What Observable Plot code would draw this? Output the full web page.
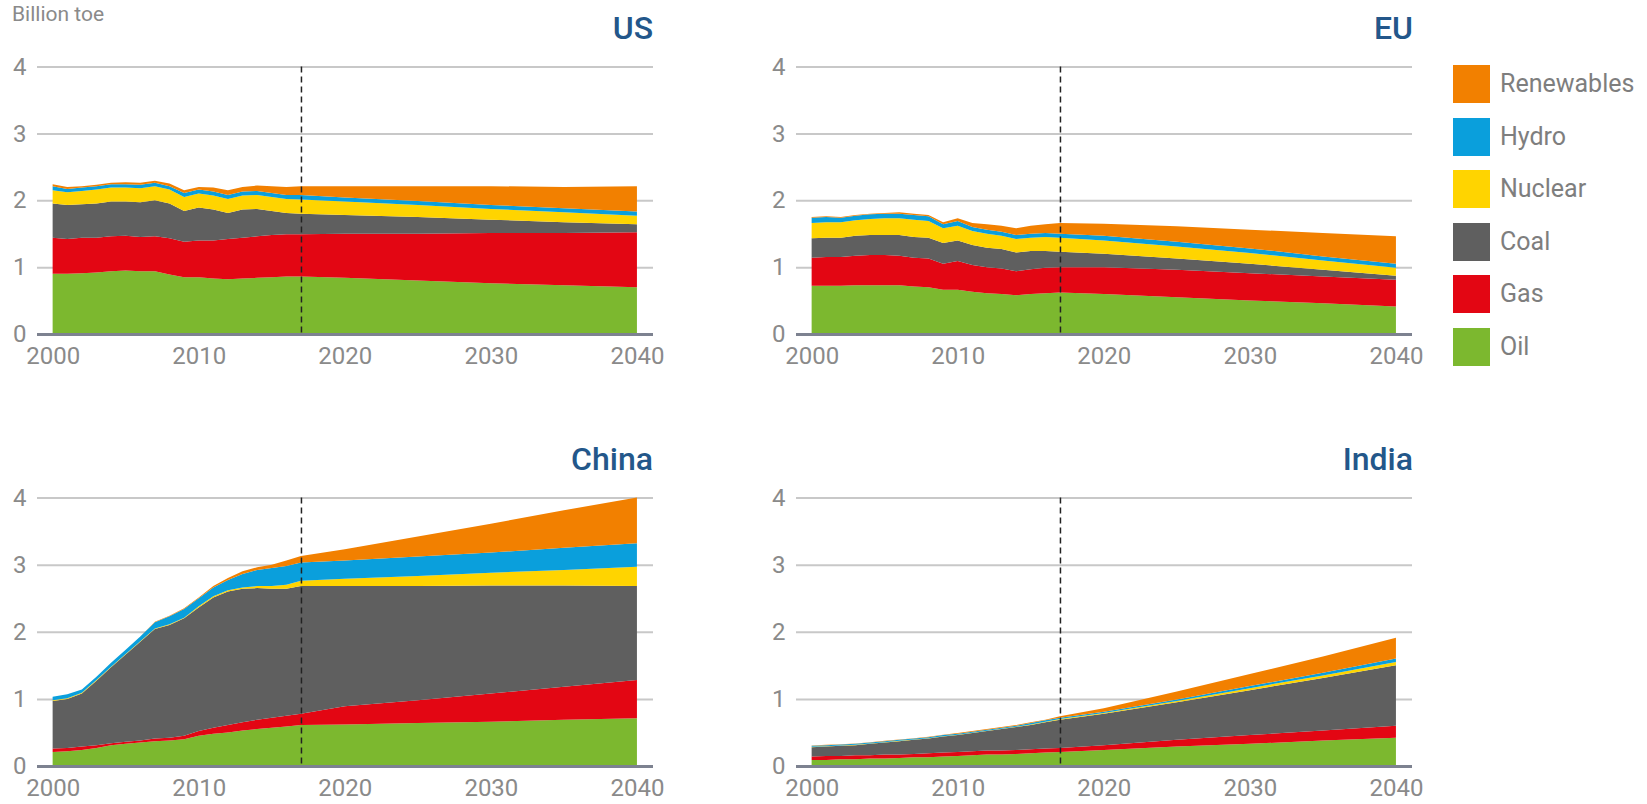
<!DOCTYPE html>
<html><head><meta charset="utf-8">
<script src="https://cdn.jsdelivr.net/npm/d3@7"></script>
<script src="https://cdn.jsdelivr.net/npm/@observablehq/plot@0.6"></script>
<style>
body{margin:0;background:#fff;font-family:Roboto,"Open Sans",sans-serif;}
#root{position:relative;width:1647px;height:804px;overflow:hidden;background:#fff;}
.panel{position:absolute;}
.panel svg{overflow:visible;}
.title{position:absolute;color:#23578a;font-size:32px;font-weight:500;line-height:1;white-space:nowrap;}
.unit{position:absolute;left:12px;top:3px;color:#8a8a8a;font-size:21px;line-height:1.1;}
.sw{position:absolute;width:37px;height:38px;}
.lt{position:absolute;color:#7e7e7e;font-size:25px;line-height:1;}
</style></head><body><div id="root"></div>
<script>
// ---- categories / ticks ----
const sources = ["Oil","Gas","Coal","Nuclear","Hydro","Renewables"];
const colors  = ["#7cb82f","#e30613","#5f5f5f","#ffd400","#0a9fdc","#f28000"];
const years = [2000,2001,2002,2003,2004,2005,2006,2007,2008,2009,2010,2011,2012,2013,2014,2015,2016,2017,2020,2025,2030,2035,2040];
const xTicks = [2000,2010,2020,2030,2040];
const yTicks = [0,1,2,3,4];
const baseYear = 2017;
const unitLabel = "Billion toe";

// ---- values: cumulative top of each layer (Billion toe) ----
const usOilTop   = [0.90,0.90,0.91,0.92,0.94,0.95,0.94,0.94,0.89,0.85,0.85,0.83,0.82,0.83,0.84,0.85,0.86,0.86,0.84,0.80,0.76,0.73,0.70];
const usGasTop   = [1.44,1.42,1.44,1.44,1.46,1.47,1.45,1.46,1.43,1.38,1.40,1.40,1.42,1.44,1.46,1.48,1.49,1.49,1.50,1.50,1.51,1.51,1.52];
const usCoalTop  = [1.95,1.93,1.94,1.95,1.98,1.98,1.97,2.00,1.95,1.84,1.89,1.86,1.81,1.86,1.87,1.84,1.81,1.80,1.78,1.75,1.71,1.67,1.64];
const usNucTop   = [2.15,2.12,2.14,2.16,2.19,2.19,2.18,2.21,2.16,2.05,2.10,2.07,2.02,2.07,2.08,2.05,2.02,2.01,1.98,1.93,1.87,1.82,1.77];
const usHydroTop = [2.21,2.17,2.19,2.21,2.24,2.24,2.23,2.26,2.21,2.11,2.16,2.13,2.08,2.13,2.14,2.11,2.08,2.08,2.04,1.99,1.93,1.88,1.83];
const usRenTop   = [2.24,2.20,2.21,2.23,2.26,2.27,2.26,2.29,2.25,2.15,2.20,2.19,2.15,2.20,2.22,2.21,2.20,2.21,2.21,2.21,2.21,2.20,2.21];

const euOilTop   = [0.72,0.72,0.72,0.73,0.73,0.73,0.73,0.71,0.70,0.66,0.66,0.63,0.61,0.60,0.58,0.60,0.61,0.62,0.60,0.55,0.50,0.46,0.41];
const euGasTop   = [1.14,1.15,1.15,1.17,1.18,1.18,1.17,1.14,1.13,1.05,1.09,1.03,1.00,0.98,0.94,0.97,0.99,1.00,1.00,0.96,0.91,0.86,0.81];
const euCoalTop  = [1.43,1.44,1.44,1.47,1.48,1.48,1.48,1.45,1.44,1.36,1.40,1.33,1.29,1.27,1.22,1.24,1.24,1.23,1.20,1.13,1.05,0.96,0.87];
const euNucTop   = [1.66,1.67,1.67,1.70,1.72,1.73,1.73,1.71,1.69,1.58,1.62,1.54,1.50,1.47,1.42,1.44,1.45,1.44,1.40,1.31,1.21,1.10,0.99];
const euHydroTop = [1.74,1.75,1.74,1.77,1.79,1.80,1.80,1.78,1.76,1.64,1.69,1.60,1.56,1.53,1.48,1.50,1.51,1.50,1.47,1.38,1.28,1.16,1.05];
const euRenTop   = [1.75,1.76,1.75,1.78,1.80,1.81,1.82,1.80,1.78,1.67,1.73,1.66,1.64,1.62,1.58,1.62,1.64,1.66,1.65,1.61,1.56,1.51,1.46];

const cnOilTop   = [0.21,0.22,0.24,0.27,0.31,0.33,0.35,0.37,0.38,0.40,0.45,0.48,0.50,0.53,0.55,0.57,0.59,0.61,0.62,0.64,0.66,0.69,0.71];
const cnGasTop   = [0.26,0.27,0.29,0.31,0.34,0.36,0.38,0.41,0.42,0.45,0.52,0.57,0.61,0.65,0.69,0.72,0.75,0.78,0.89,0.98,1.08,1.18,1.28];
const cnCoalTop  = [0.97,1.00,1.08,1.27,1.47,1.66,1.85,2.04,2.10,2.20,2.36,2.51,2.60,2.64,2.65,2.64,2.64,2.68,2.68,2.68,2.69,2.69,2.68];
const cnNucTop   = [0.98,1.01,1.09,1.28,1.48,1.67,1.86,2.05,2.11,2.21,2.38,2.53,2.62,2.66,2.68,2.68,2.70,2.76,2.79,2.83,2.88,2.92,2.97];
const cnHydroTop = [1.03,1.07,1.14,1.33,1.54,1.73,1.93,2.14,2.23,2.34,2.50,2.66,2.77,2.86,2.92,2.95,2.98,3.03,3.06,3.12,3.18,3.25,3.32];
const cnRenTop   = [1.03,1.07,1.14,1.33,1.54,1.73,1.93,2.15,2.24,2.35,2.51,2.68,2.80,2.90,2.96,3.00,3.06,3.13,3.23,3.42,3.61,3.81,4.00];

const inOilTop   = [0.09,0.09,0.10,0.10,0.11,0.11,0.12,0.13,0.13,0.14,0.15,0.16,0.17,0.17,0.18,0.19,0.20,0.21,0.24,0.29,0.33,0.38,0.42];
const inGasTop   = [0.14,0.15,0.15,0.16,0.16,0.17,0.17,0.18,0.19,0.20,0.21,0.22,0.23,0.23,0.24,0.25,0.26,0.27,0.31,0.39,0.46,0.53,0.60];
const inCoalTop  = [0.28,0.29,0.30,0.31,0.33,0.35,0.37,0.39,0.41,0.44,0.46,0.49,0.52,0.55,0.58,0.61,0.65,0.69,0.78,0.95,1.13,1.31,1.50];
const inNucTop   = [0.285,0.295,0.305,0.315,0.335,0.355,0.375,0.395,0.415,0.445,0.465,0.495,0.525,0.555,0.585,0.62,0.66,0.70,0.79,0.97,1.16,1.35,1.55];
const inHydroTop = [0.30,0.31,0.32,0.33,0.35,0.37,0.39,0.41,0.43,0.46,0.48,0.51,0.54,0.57,0.60,0.64,0.68,0.72,0.81,0.99,1.19,1.39,1.60];
const inRenTop   = [0.305,0.315,0.325,0.335,0.355,0.375,0.395,0.415,0.435,0.465,0.49,0.52,0.55,0.58,0.61,0.65,0.69,0.74,0.86,1.11,1.37,1.63,1.91];

const panels = [
  {name:"US",    tops:[usOilTop,usGasTop,usCoalTop,usNucTop,usHydroTop,usRenTop], col:0, row:0},
  {name:"EU",    tops:[euOilTop,euGasTop,euCoalTop,euNucTop,euHydroTop,euRenTop], col:1, row:0},
  {name:"China", tops:[cnOilTop,cnGasTop,cnCoalTop,cnNucTop,cnHydroTop,cnRenTop], col:0, row:1},
  {name:"India", tops:[inOilTop,inGasTop,inCoalTop,inNucTop,inHydroTop,inRenTop], col:1, row:1}
];

// ---- layout ----
const root = document.getElementById("root");
const colLeft = [0, 740], colMarginLeft = [37, 56];
const rowTop = [0, 420], rowMarginTop = [66.5, 77.5], rowMarginBottom = [40, 38];
const frameW = 616, frameH = [267.5, 268.5];
const titleRight = [653, 1413], titleTop = [12, 443];

for (const p of panels) {
  const rows = [];
  years.forEach((yr, i) => {
    let prev = 0;
    sources.forEach((s, k) => {
      const t = p.tops[k][i];
      rows.push({year: yr, source: s, value: Math.max(0, t - prev)});
      prev = t;
    });
  });
  const ml = colMarginLeft[p.col], mr = 14;
  const chart = Plot.plot({
    width: ml + frameW + mr,
    height: rowMarginTop[p.row] + frameH[p.row] + rowMarginBottom[p.row],
    marginLeft: ml, marginRight: mr,
    marginTop: rowMarginTop[p.row], marginBottom: rowMarginBottom[p.row],
    style: {fontSize: "24px", fontFamily: "Roboto, sans-serif", color: "#8a8a8a", background: "transparent", overflow: "visible"},
    x: {domain: [1998.93, 2041.1], ticks: xTicks, tickFormat: d => String(d), tickSize: 0, tickPadding: 12, label: null},
    y: {domain: [0, 4], ticks: yTicks, tickFormat: d => String(d), tickSize: 0, tickPadding: 11, label: null},
    color: {domain: sources, range: colors},
    marks: [
      Plot.ruleY(yTicks.filter(d => d > 0), {stroke: "#c8c8c8", strokeWidth: 2}),
      Plot.areaY(rows, {x: "year", y: "value", fill: "source", order: sources, curve: "linear"}),
      Plot.ruleY([0], {stroke: "#7d8290", strokeWidth: 3}),
      Plot.ruleX([baseYear], {stroke: "#222", strokeWidth: 1.5, strokeDasharray: "6,4"})
    ]
  });
  const wrap = document.createElement("div");
  wrap.className = "panel";
  wrap.style.left = colLeft[p.col] + "px";
  wrap.style.top = rowTop[p.row] + "px";
  wrap.appendChild(chart);
  root.appendChild(wrap);

  const t = document.createElement("div");
  t.className = "title";
  t.textContent = p.name;
  t.style.right = (1647 - titleRight[p.col]) + "px";
  t.style.top = titleTop[p.row] + "px";
  root.appendChild(t);
}

const u = document.createElement("div");
u.className = "unit"; u.textContent = unitLabel;
root.appendChild(u);

// legend (top to bottom: Renewables ... Oil)
const legendTop = 84, legendStep = 52.6;
sources.slice().reverse().forEach((s, i) => {
  const k = sources.indexOf(s);
  const cy = legendTop + i * legendStep;
  const sw = document.createElement("div");
  sw.className = "sw";
  sw.style.left = "1453px";
  sw.style.top = (cy - 19) + "px";
  sw.style.background = colors[k];
  root.appendChild(sw);
  const lt = document.createElement("div");
  lt.className = "lt";
  lt.textContent = s;
  lt.style.left = "1500px";
  lt.style.top = (cy - 13) + "px";
  root.appendChild(lt);
});
</script>
</body></html>
